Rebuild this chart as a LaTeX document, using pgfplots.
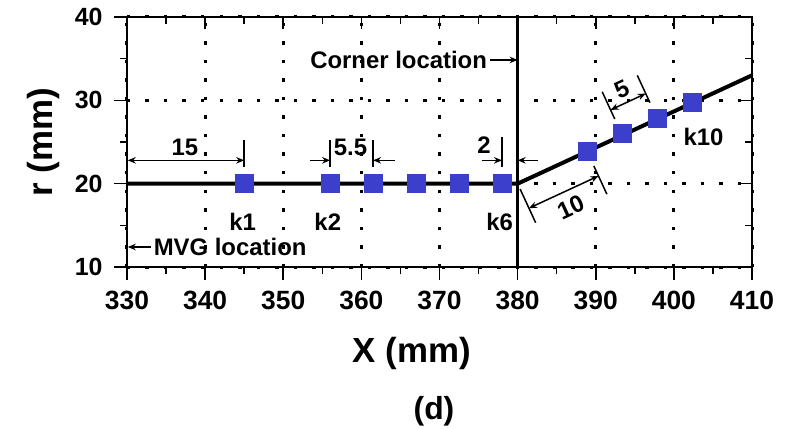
\documentclass[border=0pt]{standalone}
\usepackage{fontspec}
\setmainfont{Liberation Sans}
\usepackage{pgfplots}
\pgfplotsset{compat=1.18}
\usetikzlibrary{calc,arrows.meta}
\definecolor{kblue}{RGB}{59,63,204}

\newcommand{\annfont}{\fontsize{24}{27}\selectfont\bfseries}
\tikzset{
  dimline/.style={line width=1.5bp},
  dimarrow/.style={line width=1.5bp, -{Stealth[length=8bp,width=6.5bp]}},
  dimboth/.style={line width=1.5bp, {Stealth[length=8bp,width=6.5bp]}-{Stealth[length=8bp,width=6.5bp]}},
  ann/.style={font=\annfont, inner sep=0pt},
}
\pgfplotsset{
  frame/.style={
    at={(0bp,0bp)}, anchor=south west,
    scale only axis, width=625bp, height=250bp,
    xmin=330, xmax=410, ymin=10, ymax=40,
    xtick={330,340,...,410}, ytick={10,20,30,40},
    minor x tick num=1, minor y tick num=1,
    every tick/.style={black, line width=1.6bp},
    axis line style={line width=2bp},
  },
}

\begin{document}
\begin{tikzpicture}
\useasboundingbox (-127bp,-162bp) rectangle (668bp,267bp);

% main axis: outward ticks, labels, dotted grid, profile and key points
\begin{axis}[
  frame,
  tick align=outside, xtick pos=bottom, ytick pos=left,
  major tick length=13bp, minor tick length=7bp,
  grid=major,
  major grid style={black, line width=3bp, dash pattern=on 3.5bp off 15bp},
  xticklabel style={font=\fontsize{26.5}{28}\selectfont\bfseries, yshift=-8bp},
  yticklabel style={font=\fontsize{25}{28}\selectfont\bfseries, xshift=-8bp},
  /pgf/number format/assume math mode=true,
  clip=false,
]
% corner position
\addplot[black, line width=3bp] coordinates {(380,10) (380,40)};
% radius profile
\addplot[black, line width=4bp] coordinates {(330,20) (380,20) (410,33)};
% key points k1 ... k10
\addplot[only marks, mark=square*, mark size=9bp,
  mark options={fill=kblue, draw=kblue}] coordinates {
  (345,20) (356,20) (361.5,20) (367,20) (372.5,20) (378,20)
  (388.9,23.9) (393.4,26.0) (397.9,27.9) (402.4,29.8)
};

% point names
\node[ann] at (axis cs:344.8,15.45) {k1};
\node[ann] at (axis cs:355.7,15.45) {k2};
\node[ann] at (axis cs:377.7,15.45) {k6};
\node[ann] at (axis cs:403.8,25.6) {k10};

% location notes
\node[ann, anchor=east] at (axis cs:376.1,34.85) {Corner location};
\draw[dimarrow] (axis cs:376.5,34.85) -- (axis cs:380,34.85);
\node[ann, anchor=west] at (axis cs:333.4,12.4) {MVG location};
\draw[dimarrow] (axis cs:333.1,12.4) -- (axis cs:330.1,12.4);

% 15 mm from the MVG
\draw[dimline] (axis cs:345,22.0) -- (axis cs:345,25.2);
\draw[dimboth] (axis cs:330.1,22.8) -- (axis cs:345,22.8);
\node[ann] at (axis cs:337.4,24.4) {15};

% 5.5 mm spacing
\draw[dimline] (axis cs:356,22.0) -- (axis cs:356,25.2);
\draw[dimline] (axis cs:361.5,22.0) -- (axis cs:361.5,25.2);
\draw[dimarrow] (axis cs:353.4,22.8) -- (axis cs:356,22.8);
\draw[dimarrow] (axis cs:364.3,22.8) -- (axis cs:361.5,22.8);
\node[ann] at (axis cs:358.6,24.4) {5.5};

% 2 mm before the corner
\draw[dimline] (axis cs:378,22.0) -- (axis cs:378,25.6);
\draw[dimarrow] (axis cs:375.4,22.8) -- (axis cs:378,22.8);
\draw[dimarrow] (axis cs:382.6,22.8) -- (axis cs:380,22.8);
\node[ann] at (axis cs:375.7,24.6) {2};

% 10 mm along the slope
\coordinate (A) at (axis cs:380,20);
\coordinate (B) at (axis cs:388.9,23.86);
\draw[dimline] ($(A)+(-65.2:6bp)$) -- ($(A)+(-65.2:43bp)$);
\draw[dimline] ($(B)+(-65.2:16bp)$) -- ($(B)+(-65.2:47bp)$);
\draw[dimboth] ($(A)+(-65.2:27bp)$) -- ($(B)+(-65.2:27bp)$);
\node[ann, rotate=24.8] at ($($(A)!0.5!(B)$)+(-65.2:44bp)$) {10};

% 5 mm along the slope
\coordinate (C) at (axis cs:393.4,25.8);
\coordinate (D) at (axis cs:397.9,27.76);
\draw[dimline] ($(C)+(114.8:18bp)$) -- ($(C)+(114.8:48bp)$);
\draw[dimline] ($(D)+(114.8:18bp)$) -- ($(D)+(114.8:48bp)$);
\draw[dimboth] ($(C)+(114.8:28bp)$) -- ($(D)+(114.8:28bp)$);
\node[ann, rotate=24.8] at ($($(C)!0.5!(D)$)+(114.8:42bp)$) {5};
\end{axis}

% mirrored frame: inward ticks on top and right
\begin{axis}[
  frame,
  tick align=inside, xtick pos=top, ytick pos=right,
  major tick length=12bp, minor tick length=7bp,
  xticklabels={}, yticklabels={},
]
\end{axis}

\node[font=\fontsize{35}{40}\selectfont\bfseries, anchor=base] at (285bp,-95bp) {X (mm)};
\node[font=\fontsize{35}{40}\selectfont\bfseries, rotate=90] at (-84bp,124.5bp) {r (mm)};
\node[font=\fontsize{32}{36}\selectfont\bfseries, anchor=base] at (307bp,-152bp) {(d)};
\end{tikzpicture}
\end{document}
